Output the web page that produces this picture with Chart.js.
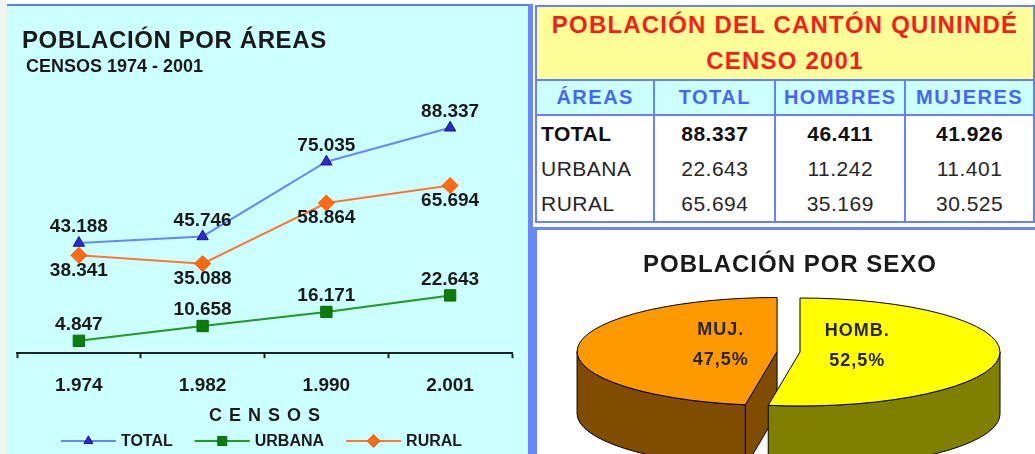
<!DOCTYPE html>
<html lang="es">
<head>
<meta charset="utf-8">
<title>Población del cantón Quinindé</title>
<script src="https://cdn.jsdelivr.net/npm/chart.js@4.4.1/dist/chart.umd.min.js"></script>
<style>
  html, body { margin: 0; padding: 0; }
  body { width: 1035px; height: 454px; overflow: hidden; position: relative; background: #fff;
         font-family: "Liberation Sans", Arial, sans-serif; }
  #strip { position: absolute; left: 0; top: 0; width: 7px; height: 454px; background: #eef6ee; }
  #areasPanel { position: absolute; left: 7px; top: 4px; width: 521px; height: 450px; background: #ccffff;
                border-top: 2px solid #5b7cf5; }
  #areasEdge { position: absolute; left: 528px; top: 4px; width: 5px; height: 450px; background: #6b87ff; }
  #lineBox { position: absolute; left: 7px; top: 6px; }
  #areasTitle { position: absolute; left: 22px; top: 28px; font-size: 24px; line-height: 24px; font-weight: bold;
                color: #1a1a1a; letter-spacing: 0.6px; white-space: nowrap; }
  #areasSub { position: absolute; left: 26px; top: 57px; font-size: 18px; line-height: 18px; font-weight: bold;
              color: #1a1a1a; white-space: nowrap; }

  #tbl { position: absolute; left: 535px; top: 5px; border-collapse: collapse; table-layout: fixed; }
  #tbl td { border: 2px solid #6680ff; padding: 0; overflow: hidden; white-space: nowrap; }
  #tbl .head td { background: #ffff99; color: #ff1a1a; font-weight: bold; font-size: 24px; letter-spacing: 1.2px;
                  text-align: center; line-height: 36px; height: 72px; }
  #tbl .cols td { background: #ccffff; color: #4466ff; font-weight: bold; font-size: 20px; letter-spacing: 1.5px;
                  text-align: center; height: 33px; }
  #tbl .row td { font-size: 21px; letter-spacing: 0.5px; color: #262626; text-align: center; height: 35px;
                 border-top: none; border-bottom: none; }
  #tbl .row td:first-child { text-align: left; padding-left: 4px; }
  #tbl .row.strong td { font-weight: bold; color: #111; }
  #tbl .row.last td { border-bottom: 2px solid #6680ff; }

  #sexPanel { position: absolute; left: 533px; top: 227px; width: 510px; height: 230px; background: #fff;
              border-top: 3px solid #6b87ff; border-left: 4px solid #6b87ff; }
  #pieBox { position: absolute; left: 537px; top: 230px; }
  #sexTitle { position: absolute; left: 540px; top: 252px; width: 500px; text-align: center; font-size: 24px;
              line-height: 24px; font-weight: bold; color: #1a1a1a; letter-spacing: 1px; white-space: nowrap; }
</style>
</head>
<body>
<div id="strip"></div>
<div id="areasPanel"></div>
<div id="areasEdge"></div>
<div id="lineBox"><canvas id="areasChart" width="521" height="448"></canvas></div>
<div id="areasTitle">POBLACIÓN POR ÁREAS</div>
<div id="areasSub">CENSOS 1974 - 2001</div>

<table id="tbl">
  <colgroup><col style="width:123px"><col style="width:131px"><col style="width:133px"><col style="width:133px"></colgroup>
  <tbody id="tblBody"></tbody>
</table>

<div id="sexPanel"></div>
<div id="pieBox"><canvas id="sexChart" width="498" height="224"></canvas></div>
<div id="sexTitle">POBLACIÓN POR SEXO</div>

<script>
// Censos y series del gráfico de líneas
const censusYears = [1974, 1982, 1990, 2001];
const totalSeries = [43188, 45746, 75035, 88337];
const urbanSeries = [4847, 10658, 16171, 22643];
const ruralSeries = [38341, 35088, 58864, 65694];

// Tabla censo 2001
const tableTitle = ["POBLACIÓN DEL CANTÓN QUININDÉ", "CENSO 2001"];
const tableHeaders = ["ÁREAS", "TOTAL", "HOMBRES", "MUJERES"];
const tableAreas = ["TOTAL", "URBANA", "RURAL"];
const tableTotal = [88337, 22643, 65694];
const tableMen = [46411, 11242, 35169];
const tableWomen = [41926, 11401, 30525];

// Pastel por sexo (totales del cantón)
const sexLabels = ["HOMB.", "MUJ."];
const sexValues = [tableMen[0], tableWomen[0]];

const FONT = '"Liberation Sans", Arial, sans-serif';

function fmtMiles(v) {
    return String(v).replace(/\B(?=(\d{3})+(?!\d))/g, ".");
}

function fmtPct(v, total) {
    return (v / total * 100).toFixed(1).replace(".", ",") + "%";
}

// ---- tabla ----
(function buildTable() {
    const body = document.getElementById("tblBody");
    let html = '<tr class="head"><td colspan="4">' + tableTitle.join("<br>") + "</td></tr>";
    html += '<tr class="cols">' + tableHeaders.map(h => "<td>" + h + "</td>").join("") + "</tr>";
    tableAreas.forEach(function(area, i) {
        let cls = "row" + (i === 0 ? " strong" : "") + (i === tableAreas.length - 1 ? " last" : "");
        html += '<tr class="' + cls + '"><td>' + area + "</td><td>" + fmtMiles(tableTotal[i]) +
            "</td><td>" + fmtMiles(tableMen[i]) + "</td><td>" + fmtMiles(tableWomen[i]) + "</td></tr>";
    });
    body.innerHTML = html;
})();

// ---- gráfico de líneas: etiquetas, título del eje y leyenda ----
const lineExtras = {
    id: "lineExtras",
    afterDatasetsDraw(chart) {
        const ctx = chart.ctx;
        ctx.save();
        ctx.font = "bold 19px " + FONT;
        ctx.fillStyle = "#1a1a1a";
        ctx.textAlign = "center";
        ctx.textBaseline = "middle";
        chart.data.datasets.forEach(function(ds, i) {
            const meta = chart.getDatasetMeta(i);
            meta.data.forEach(function(pt, j) {
                const dy = ds.labelSide === "below" ? 15 : -16;
                ctx.fillText(fmtMiles(ds.data[j]), pt.x, pt.y + dy);
            });
        });
        ctx.restore();
    },
    afterDraw(chart) {
        const ctx = chart.ctx;
        const midX = (chart.chartArea.left + chart.chartArea.right) / 2;
        ctx.save();

        // título del eje X con letras espaciadas
        ctx.font = "bold 18px " + FONT;
        ctx.fillStyle = "#1a1a1a";
        ctx.textAlign = "center";
        ctx.textBaseline = "middle";
        ctx.letterSpacing = "7px";
        ctx.fillText("CENSOS", midX + 3.5, 410);
        ctx.letterSpacing = "0px";

        // leyenda: línea con marcador y texto
        ctx.font = "bold 16px " + FONT;
        const lineLen = 55, gap = 5, itemGap = 22, y = 435;
        const items = chart.data.datasets.map(function(ds) {
            return { ds: ds, w: lineLen + gap + ctx.measureText(ds.label).width };
        });
        let totalW = items.reduce((s, it) => s + it.w, 0) + itemGap * (items.length - 1);
        let x = midX - totalW / 2 - 3;
        items.forEach(function(it) {
            const ds = it.ds;
            ctx.strokeStyle = ds.borderColor;
            ctx.lineWidth = 2;
            ctx.beginPath();
            ctx.moveTo(x, y);
            ctx.lineTo(x + lineLen, y);
            ctx.stroke();
            ctx.fillStyle = ds.pointBackgroundColor;
            ctx.strokeStyle = ds.pointBorderColor;
            ctx.lineWidth = 1;
            Chart.helpers.drawPoint(ctx, {
                pointStyle: ds.pointStyle,
                radius: ds.pointRadius * 0.8,
                rotation: 0,
                borderWidth: 1
            }, x + lineLen / 2, y);
            ctx.fillStyle = "#1a1a1a";
            ctx.textAlign = "left";
            ctx.fillText(ds.label, x + lineLen + gap, y + 1);
            x += it.w + itemGap;
        });
        ctx.restore();
    }
};

new Chart(document.getElementById("areasChart"), {
    type: "line",
    data: {
        labels: censusYears.map(fmtMiles),
        datasets: [
            {
                label: "TOTAL",
                data: totalSeries,
                labelSide: "above",
                borderColor: "#6688ff",
                borderWidth: 2,
                pointStyle: "triangle",
                pointRadius: 6.5,
                pointBackgroundColor: "#2a2ad0",
                pointBorderColor: "#15158f",
                pointBorderWidth: 1
            },
            {
                label: "URBANA",
                data: urbanSeries,
                labelSide: "above",
                borderColor: "#229922",
                borderWidth: 2,
                pointStyle: "rect",
                pointRadius: 8,
                pointBackgroundColor: "#0b7d0b",
                pointBorderColor: "#0b6b0b",
                pointBorderWidth: 1
            },
            {
                label: "RURAL",
                data: ruralSeries,
                labelSide: "below",
                borderColor: "#ff7733",
                borderWidth: 2,
                pointStyle: "rectRot",
                pointRadius: 8,
                pointBackgroundColor: "#ff6a12",
                pointBorderColor: "#f05a00",
                pointBorderWidth: 1
            }
        ]
    },
    options: {
        responsive: false,
        animation: false,
        events: [],
        layout: { padding: { left: 10, right: 16, top: 92, bottom: 41 } },
        elements: { line: { tension: 0 } },
        scales: {
            x: {
                offset: true,
                grid: {
                    offset: true,
                    drawOnChartArea: false,
                    drawTicks: true,
                    tickLength: 5,
                    tickColor: "#222",
                    tickWidth: 2
                },
                border: { display: true, color: "#222", width: 2 },
                ticks: {
                    font: { family: FONT, size: 19, weight: "bold" },
                    color: "#1a1a1a",
                    padding: 16
                }
            },
            y: { display: false, min: 0, max: 100000 }
        },
        plugins: {
            legend: { display: false },
            tooltip: { enabled: false }
        }
    },
    plugins: [lineExtras]
});

// ---- pastel 3D ----
const pieTilt = 0.27;
const pieDepth = 62;
const pieExplode = [0, 23];
const pieSideColors = ["#808000", "#7f4c00"];

function pieSlices(chart) {
    const meta = chart.getDatasetMeta(0);
    return meta.data.map(function(arc, i) {
        const mid = (arc.startAngle + arc.endAngle) / 2;
        const rx = arc.outerRadius;
        return {
            i: i,
            start: arc.startAngle,
            end: arc.endAngle,
            mid: mid,
            rx: rx,
            ry: rx * pieTilt,
            cx: arc.x + Math.cos(mid) * pieExplode[i],
            cy: arc.y + Math.sin(mid) * pieExplode[i] * pieTilt,
            top: arc.options.backgroundColor
        };
    });
}

function frontRanges(a0, a1) {
    const out = [];
    [-2 * Math.PI, 0, 2 * Math.PI].forEach(function(base) {
        const lo = Math.max(a0, base), hi = Math.min(a1, base + Math.PI);
        if (hi > lo) out.push([lo, hi]);
    });
    return out;
}

const pie3d = {
    id: "pie3d",
    beforeDatasetsDraw(chart) {
        const ctx = chart.ctx;
        const slices = pieSlices(chart).sort((a, b) => Math.sin(a.mid) - Math.sin(b.mid));
        ctx.save();
        ctx.lineWidth = 1;
        ctx.strokeStyle = "#000";
        ctx.lineJoin = "round";

        // paredes
        slices.forEach(function(s) {
            ctx.fillStyle = pieSideColors[s.i];
            // caras radiales visibles
            [[s.start, -1], [s.end, 1]].forEach(function(f) {
                const a = f[0];
                if (f[1] * Math.cos(a) <= 0.001) return;
                const ex = s.cx + s.rx * Math.cos(a), ey = s.cy + s.ry * Math.sin(a);
                ctx.beginPath();
                ctx.moveTo(s.cx, s.cy);
                ctx.lineTo(ex, ey);
                ctx.lineTo(ex, ey + pieDepth);
                ctx.lineTo(s.cx, s.cy + pieDepth);
                ctx.closePath();
                ctx.fill();
                ctx.stroke();
            });
            // pared exterior frontal
            frontRanges(s.start, s.end).forEach(function(r) {
                const lo = r[0], hi = r[1];
                ctx.beginPath();
                ctx.moveTo(s.cx + s.rx * Math.cos(lo), s.cy + s.ry * Math.sin(lo));
                ctx.ellipse(s.cx, s.cy, s.rx, s.ry, 0, lo, hi, false);
                ctx.lineTo(s.cx + s.rx * Math.cos(hi), s.cy + s.ry * Math.sin(hi) + pieDepth);
                ctx.ellipse(s.cx, s.cy + pieDepth, s.rx, s.ry, 0, hi, lo, true);
                ctx.closePath();
                ctx.fill();
                ctx.stroke();
            });
        });

        // caras superiores
        slices.forEach(function(s) {
            ctx.fillStyle = s.top;
            ctx.beginPath();
            ctx.moveTo(s.cx, s.cy);
            ctx.ellipse(s.cx, s.cy, s.rx, s.ry, 0, s.start, s.end, false);
            ctx.closePath();
            ctx.fill();
            ctx.stroke();
        });
        ctx.restore();
        return false;
    },
    afterDraw(chart) {
        const ctx = chart.ctx;
        const total = sexValues.reduce((a, b) => a + b, 0);
        ctx.save();
        ctx.font = "bold 18px " + FONT;
        ctx.fillStyle = "#262626";
        ctx.textAlign = "center";
        ctx.textBaseline = "middle";
        ctx.letterSpacing = "1px";
        pieSlices(chart).forEach(function(s) {
            const x = s.cx + s.rx * 0.285 * Math.cos(s.mid) + 0.5;
            ctx.fillText(sexLabels[s.i], x, s.cy - 21);
            ctx.fillText(fmtPct(sexValues[s.i], total), x, s.cy + 9);
        });
        ctx.restore();
    }
};

new Chart(document.getElementById("sexChart"), {
    type: "pie",
    data: {
        labels: sexLabels,
        datasets: [{
            data: sexValues,
            backgroundColor: ["#ffff00", "#ff9900"],
            borderColor: "#000",
            borderWidth: 1
        }]
    },
    options: {
        responsive: false,
        animation: false,
        events: [],
        radius: 200,
        layout: { padding: { left: 28, top: 20 } },
        plugins: {
            legend: { display: false },
            tooltip: { enabled: false }
        }
    },
    plugins: [pie3d]
});
</script>
</body>
</html>
